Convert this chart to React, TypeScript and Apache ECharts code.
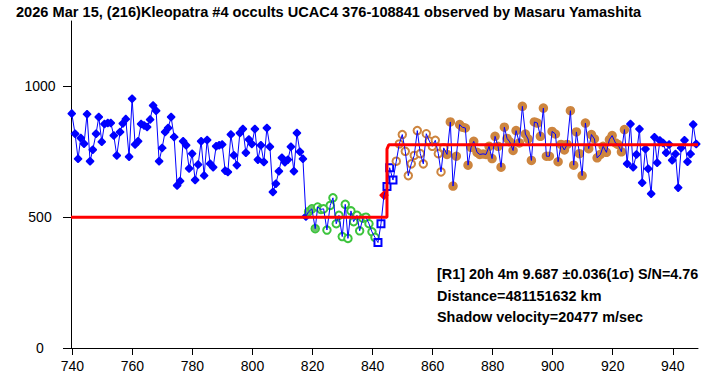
import React, { useEffect, useRef } from 'react';
import * as echarts from 'echarts';

const titleText = '2026 Mar 15, (216)Kleopatra #4 occults UCAC4 376-108841 observed by Masaru Yamashita';
const noteLines = ['[R1] 20h 4m 9.687 ±0.036(1σ) S/N=4.76', 'Distance=481151632 km', 'Shadow velocity=20477 m/sec'];
const xTicks = [740, 760, 780, 800, 820, 840, 860, 880, 900, 920, 940];
const yTicks = [0, 500, 1000];

const blueBefore: [number, number][] = [
  [739.8, 896], [740.9, 819], [741.9, 723], [742.8, 803], [743.9, 781], [744.9, 894], [745.9, 714], [746.8, 758], [747.9, 819], [748.8, 883],
  [749.8, 788], [750.7, 856], [751.8, 860], [752.8, 860], [753.8, 812], [754.8, 736], [755.9, 826], [756.8, 858], [757.8, 875], [758.9, 731],
  [759.9, 953], [760.9, 778], [761.9, 790], [762.9, 856], [763.9, 851], [764.9, 845], [765.9, 873], [766.9, 927], [767.9, 907], [768.9, 714],
  [769.9, 765], [770.9, 826], [771.9, 841], [772.9, 883], [773.9, 807], [774.9, 621], [775.9, 638], [776.9, 790], [777.9, 775], [778.9, 686],
  [779.9, 743], [780.9, 642], [781.9, 701], [782.9, 790], [783.9, 659], [784.9, 795], [785.9, 704], [786.9, 691], [787.9, 771], [788.9, 775],
  [789.9, 778], [790.9, 678], [791.8, 673], [792.8, 816], [793.8, 737], [794.8, 699], [795.8, 822], [796.8, 837], [797.8, 746], [798.8, 797],
  [799.8, 780], [800.8, 837], [801.8, 720], [802.8, 775], [803.8, 711], [804.8, 841], [805.8, 769], [806.8, 596], [807.8, 628], [808.8, 676],
  [809.8, 727], [810.8, 710], [811.8, 720], [812.8, 769], [813.8, 676], [814.8, 822], [815.8, 750], [816.8, 723], [817.8, 503],
];
const greenFilled: [number, number][] = [[818.7, 521], [819.8, 532], [820.9, 456]];
const greenHollow: [number, number][] = [
  [821.7, 539], [822.8, 530], [823.7, 532], [824.8, 451], [825.9, 545], [826.8, 574], [827.9, 475], [828.8, 507], [829.9, 426], [830.9, 549],
  [831.8, 419], [832.8, 524], [833.7, 483], [834.8, 507], [835.7, 448], [836.8, 496], [837.8, 500], [838.8, 475], [839.8, 444], [840.8, 423],
];
const blueSquares: [number, number][] = [[841.8, 403], [842.8, 475], [844.8, 617], [845.7, 689], [846.8, 642]];
const redPoint: [number, number][] = [[843.8, 584]];
const brownHollow: [number, number][] = [
  [847.9, 714], [848.9, 780], [849.9, 816], [850.9, 752], [851.9, 659], [852.9, 704], [853.9, 736], [854.9, 831], [855.9, 743], [856.9, 704],
  [857.9, 819], [858.9, 791], [859.9, 771], [860.9, 794], [861.9, 743], [862.8, 673], [863.7, 765],
];
const brownFilled: [number, number][] = [
  [864.8, 740], [865.9, 864], [866.8, 619], [867.9, 733], [869.0, 854], [869.9, 844], [870.9, 841], [871.8, 699], [872.8, 767], [873.7, 790],
  [874.8, 748], [875.7, 740], [876.8, 742], [877.8, 740], [878.8, 771], [879.8, 724], [880.8, 809], [881.8, 771], [882.8, 691], [883.9, 844],
  [884.8, 801], [885.7, 788], [886.8, 755], [887.8, 831], [888.9, 784], [889.9, 924], [890.9, 818], [891.8, 799], [892.9, 717], [893.9, 864],
  [894.9, 860], [895.9, 809], [896.9, 917], [897.9, 733], [898.9, 733], [899.8, 828], [900.9, 818], [901.8, 712], [902.8, 778], [903.9, 757],
  [904.8, 778], [905.9, 907], [907.0, 699], [907.9, 826], [908.9, 743], [909.8, 659], [910.9, 860], [912.0, 762], [912.9, 816], [913.9, 799],
  [914.8, 727], [915.9, 740], [916.8, 771], [917.9, 748], [918.9, 797], [919.8, 812], [920.9, 784], [921.7, 778], [922.9, 750], [923.9, 835],
];
const blueAfter: [number, number][] = [
  [924.8, 704], [925.9, 856], [926.8, 691], [927.9, 740], [928.9, 837], [929.8, 632], [930.9, 761], [931.8, 685], [932.8, 590], [933.9, 806],
  [934.8, 708], [935.7, 793], [936.8, 784], [937.8, 746], [938.8, 778], [939.8, 718], [940.9, 742], [941.8, 613], [942.8, 765], [943.9, 794],
  [944.9, 712], [945.9, 742], [946.8, 854], [947.8, 780],
];
const fitLine: [number, number][] = [[739.55, 500], [844.8, 500], [844.8, 760], [845.4, 777], [948.4, 777]];

const FONT = '"Liberation Sans", Arial, sans-serif';
const diamondPath = 'path://M4 0L5 0L9 4L9 5L5 9L4 9L0 5L0 4Z';

export default function App() {
  const ref = useRef<HTMLDivElement>(null);
  useEffect(() => {
    if (!ref.current) return;
    const chart = echarts.init(ref.current, undefined, { renderer: 'svg' });
    const allPoints = [
      ...blueBefore, ...greenFilled, ...greenHollow, ...blueSquares, ...redPoint,
      ...brownHollow, ...brownFilled, ...blueAfter,
    ].sort((a, b) => a[0] - b[0]);
    const scatter = (data: [number, number][], symbol: string, size: number, fill: string, border: string, bw: number) => ({
      type: 'scatter', data, symbol, symbolSize: size, silent: true,
      itemStyle: { color: fill, borderColor: border, borderWidth: bw, opacity: 1 },
    });
    chart.setOption({
      animation: false,
      textStyle: { fontFamily: FONT },
      title: {
        text: titleText, left: 16, top: 4, padding: 0,
        textStyle: { fontFamily: FONT, fontSize: 14.6, fontWeight: 'bold', color: '#000' },
      },
      grid: { left: 71, right: 30, top: 21, bottom: 30, containLabel: false },
      xAxis: {
        type: 'value', min: 739.55, max: 948.4,
        axisLine: { show: true, onZero: false, lineStyle: { color: '#000', width: 1 } },
        axisTick: { show: true, length: 7, customValues: xTicks, lineStyle: { color: '#000' } },
        axisLabel: { customValues: xTicks, fontSize: 14, color: '#000', margin: 11, fontFamily: FONT, formatter: (v: number) => String(v) },
        splitLine: { show: false },
      },
      yAxis: {
        type: 'value', min: 0, max: 1250,
        axisLine: { show: true, onZero: false, lineStyle: { color: '#000', width: 1 } },
        axisTick: { show: true, length: 8, customValues: yTicks, lineStyle: { color: '#000' } },
        axisLabel: { customValues: yTicks, fontSize: 14, color: '#000', margin: 31, align: 'center', fontFamily: FONT, formatter: (v: number) => String(v) },
        splitLine: { show: false },
      },
      graphic: noteLines.map((t, i) => ({
        type: 'text', x: 437, y: 274 + i * 21.7, silent: true,
        style: { text: t, font: `bold 14.4px ${FONT}`, fill: '#000', verticalAlign: 'middle' },
      })),
      series: [
        { type: 'line', data: allPoints, showSymbol: false, symbol: 'none', silent: true, lineStyle: { color: '#0000ff', width: 1 } },
        scatter([...blueBefore, ...blueAfter], diamondPath, 8.5, '#0000ff', '#0000ff', 0),
        scatter(greenFilled, 'circle', 8, '#6cc46c', '#3cc43c', 1.5),
        scatter(greenHollow, 'circle', 7.5, '#ffffff', '#3cc43c', 2),
        scatter(blueSquares, 'rect', 7, '#ffffff', '#0000ff', 2),
        scatter(brownHollow, 'circle', 7.5, '#ffffff', '#cd853f', 2),
        scatter(brownFilled, 'circle', 9.5, '#cd853f', '#cd853f', 0),
        scatter(redPoint, diamondPath, 9, '#ff0000', '#ff0000', 0),
        { type: 'line', data: fitLine, showSymbol: false, symbol: 'none', silent: true, lineStyle: { color: '#ff0000', width: 3 } },
      ],
    });
    return () => chart.dispose();
  }, []);
  return <div ref={ref} style={{ position: 'absolute', left: 0, top: 0, width: 728, height: 378 }} />;
}
